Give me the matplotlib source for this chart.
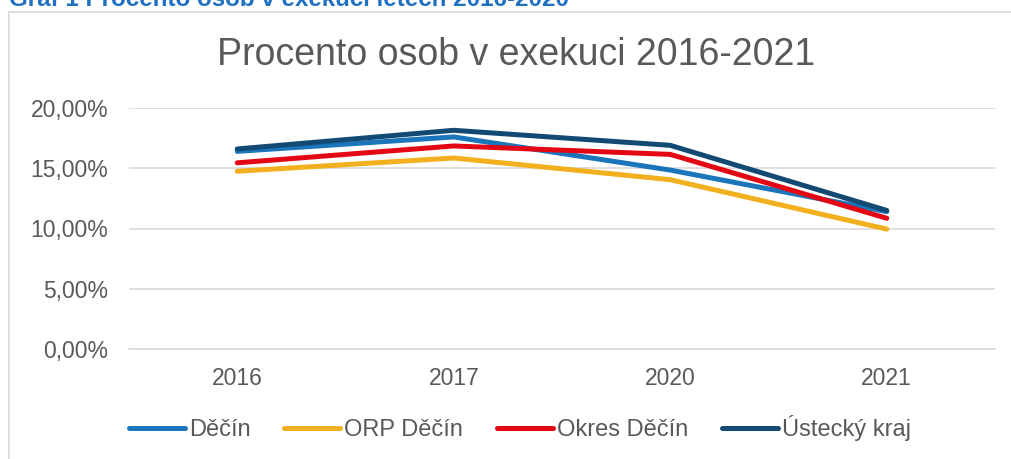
import matplotlib
matplotlib.use("Agg")
import matplotlib.pyplot as plt
from matplotlib.patches import Rectangle
from matplotlib.ticker import FuncFormatter

plt.rcParams['font.family'] = ['Liberation Sans', 'DejaVu Sans']

years = ["2016", "2017", "2020", "2021"]
decin = [16.4, 17.6, 14.85, 11.4]
orp_decin = [14.75, 15.85, 14.05, 9.95]
okres_decin = [15.45, 16.85, 16.15, 10.85]
ustecky_kraj = [16.6, 18.15, 16.9, 11.5]

series = [
    ("Děčín", decin, "#1B75BB"),
    ("ORP Děčín", orp_decin, "#F2AF1E"),
    ("Okres Děčín", okres_decin, "#E30613"),
    ("Ústecký kraj", ustecky_kraj, "#124A73"),
]

W, H = 1012, 459
fig = plt.figure(figsize=(W / 100, H / 100), dpi=100)

# chart frame
fig.patches.append(Rectangle((9 / W, -0.1), 1.2, 1 - 12.5 / H + 0.1,
                             transform=fig.transFigure, fill=False,
                             edgecolor="#D9D9D9", lw=1.2))

fig.text(9 / W, 1 - 6 / H, "Graf 1 Procento osob v exekuci letech 2016-2020",
         color="#1F70C1", fontsize=17.4, fontweight="bold", ha="left", va="baseline")

ax = fig.add_axes([129 / W, 1 - 349 / H, (995 - 129) / W, (349 - 108) / H])
x = list(range(len(years)))
for name, vals, col in series:
    ax.plot(x, vals, color=col, lw=3.6, solid_capstyle="round",
            solid_joinstyle="round", label=name)

ax.set_xlim(-0.5, len(years) - 0.5)
ax.set_ylim(0, 20)
ax.set_yticks([0, 5, 10, 15, 20])
ax.yaxis.set_major_formatter(FuncFormatter(lambda v, p: f"{v:.2f}".replace(".", ",") + "%"))
ax.set_xticks(x)
ax.set_xticklabels(years)
ax.grid(axis="y", color="#D9D9D9", lw=1.2)
ax.set_axisbelow(True)
for s in ["top", "right", "left"]:
    ax.spines[s].set_visible(False)
ax.spines["bottom"].set_color("#D9D9D9")
ax.spines["bottom"].set_linewidth(1.2)
ax.tick_params(axis="both", length=0, labelsize=16.5, colors="#595959")
ax.tick_params(axis="y", pad=15)
ax.tick_params(axis="x", pad=13)

fig.text(516 / W, 1 - 55 / H, "Procento osob v exekuci 2016-2021",
         ha="center", va="center", fontsize=27, color="#595959")

handles, labels = ax.get_legend_handles_labels()
fig.legend(handles, labels, loc="center", bbox_to_anchor=(520 / W, 1 - 428 / H),
           ncol=4, frameon=False, fontsize=17, labelcolor="#595959",
           handlelength=2.37, handletextpad=0.17, columnspacing=1.44)

fig.savefig("out.png", dpi=100)
